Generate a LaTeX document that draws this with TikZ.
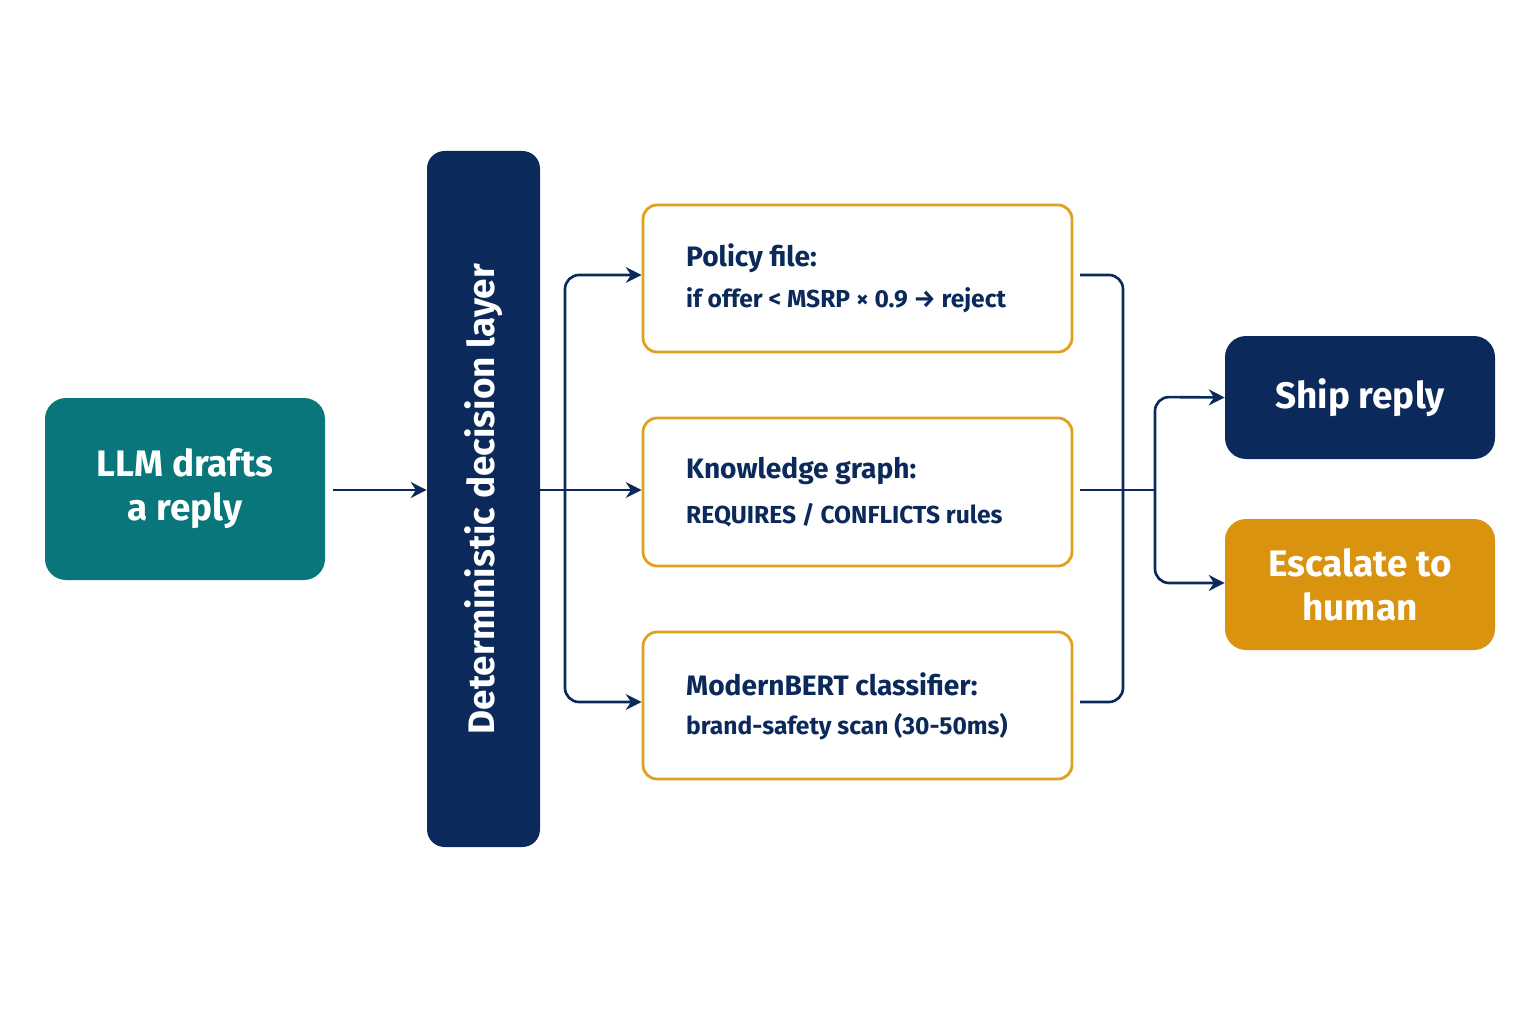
\documentclass[tikz,border=0pt]{standalone}
\usepackage{fontspec}
\setmainfont{Fira Sans}
\usetikzlibrary{arrows.meta}
\definecolor{navy}{HTML}{0B2A5B}
\definecolor{teal1}{HTML}{08767A}
\definecolor{gold}{HTML}{DA930F}
\definecolor{goldline}{HTML}{E0A020}
\tikzset{
 px/.style={x=0.02cm,y=-0.02cm},
 fillbox/.style={rounded corners=12pt,text=white,font=\bfseries\fontsize{21}{25}\selectfont,align=center,inner sep=0},
 rulebox/.style={draw=goldline,line width=1.6pt,fill=white,rounded corners=8pt},
 conn/.style={navy,line width=1.5pt,rounded corners=8pt},
 arr/.style={conn,-{Stealth[length=9pt,width=9pt]}},
 ttl/.style={anchor=west,text=navy,font=\bfseries\fontsize{16}{19}\selectfont},
 sub/.style={anchor=west,text=navy,font=\bfseries\fontsize{14}{17}\selectfont},
}
\begin{document}
\begin{tikzpicture}[px]
\useasboundingbox[fill=white] (0,0) rectangle (1536,1024);
\node[fillbox,fill=teal1,minimum width=280*0.02cm,minimum height=182*0.02cm] (llm) at (185,489) {LLM drafts\\a reply};
\node[fill=navy,rounded corners=10pt,minimum width=113*0.02cm,minimum height=696*0.02cm,inner sep=0] (dec) at (483.5,499) {};
\node[rotate=90,text=white,font=\bfseries\fontsize{21}{25}\selectfont] at (dec.center) {Deterministic decision layer};
\node[rulebox,minimum width=429*0.02cm,minimum height=147*0.02cm] (p1) at (857.5,278.5) {};
\node[rulebox,minimum width=429*0.02cm,minimum height=148*0.02cm] (p2) at (857.5,492) {};
\node[rulebox,minimum width=429*0.02cm,minimum height=147*0.02cm] (p3) at (857.5,705.5) {};
\node[ttl] at (680,258) {Policy file:};
\node[sub] at (680,300) {if offer < MSRP × 0.9 → reject};
\node[ttl] at (680,471) {Knowledge graph:};
\node[sub] at (680,515) {REQUIRES / CONFLICTS rules};
\node[ttl] at (680,684) {ModernBERT classifier:};
\node[sub] at (680,727) {brand-safety scan (30-50ms)};
\node[fillbox,fill=navy,minimum width=270*0.02cm,minimum height=123*0.02cm] (ship) at (1360,397.5) {Ship reply};
\node[fillbox,fill=gold,minimum width=270*0.02cm,minimum height=131*0.02cm] (esc) at (1360,584.5) {Escalate to\\human};
\coordinate (a0) at (333,490);
\draw[arr] (a0) -- (dec.west |- a0);
\draw[arr] (dec.east |- 0,490) -- (p2.west |- 0,490);
\draw[arr] (565,490) -- (565,275) -- (p1.west |- 0,275);
\draw[arr] (565,490) -- (565,702) -- (p3.west |- 0,702);
\draw[conn] (1080,275) -- (1123,275) -- (1123,702) -- (1080,702);
\draw[conn] (1080,490) -- (1155,490);
\draw[arr] (1155,490) -- (1155,397) -- (ship.west);
\draw[arr] (1155,490) -- (1155,583) -- (esc.west |- 0,583);
\end{tikzpicture}
\end{document}
